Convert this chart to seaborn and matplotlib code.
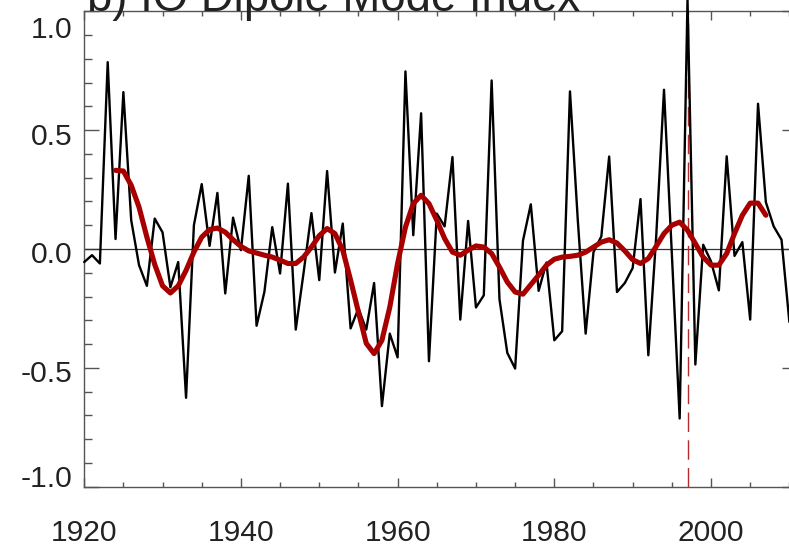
import numpy as np
import pandas as pd
import matplotlib
matplotlib.use("Agg")
import matplotlib.pyplot as plt
from matplotlib.ticker import MultipleLocator
from matplotlib.transforms import ScaledTranslation
import seaborn as sns

# ---------------- data ----------------
years = list(range(1920, 2011))
dmi = [
    -0.055, -0.026, -0.061, 0.786, 0.042, 0.660, 0.121, -0.068, -0.155, 0.128,   # 1920-1929
    0.070, -0.161, -0.055, -0.626, 0.100, 0.273, 0.013, 0.236, -0.187, 0.132,    # 1930-1939
    -0.005, 0.308, -0.323, -0.180, 0.092, -0.103, 0.275, -0.339, -0.100, 0.151,  # 1940-1949
    -0.131, 0.328, -0.099, 0.107, -0.334, -0.250, -0.339, -0.143, -0.661, -0.356,  # 1950-1959
    -0.456, 0.747, 0.058, 0.571, -0.472, 0.149, 0.095, 0.387, -0.297, 0.118,     # 1960-1969
    -0.246, -0.195, 0.709, -0.211, -0.437, -0.503, 0.035, 0.188, -0.176, -0.057,  # 1970-1979
    -0.384, -0.346, 0.663, 0.120, -0.356, -0.013, 0.053, 0.389, -0.181, -0.143,  # 1980-1989
    -0.080, 0.210, -0.447, 0.050, 0.670, -0.020, -0.713, 1.050, -0.486, 0.018,   # 1990-1999
    -0.052, -0.174, 0.390, -0.029, 0.029, -0.297, 0.611, 0.197, 0.095, 0.039,    # 2000-2009
    -0.307,                                                                      # 2010
]

smooth_years = list(range(1924, 2008))
dmi_smooth = [
    0.331, 0.328, 0.268, 0.176, 0.050, -0.065,                                   # 1924-1929
    -0.155, -0.185, -0.155, -0.090, -0.013, 0.050, 0.082, 0.088, 0.071, 0.039,   # 1930-1939
    0.011, -0.008, -0.017, -0.026, -0.034, -0.047, -0.061, -0.061, -0.034, 0.008,  # 1940-1949
    0.056, 0.086, 0.065, -0.005, -0.131, -0.265, -0.397, -0.440, -0.384, -0.245,  # 1950-1959
    -0.061, 0.092, 0.191, 0.226, 0.191, 0.121, 0.044, -0.013, -0.026, -0.005,    # 1960-1969
    0.013, 0.008, -0.019, -0.076, -0.139, -0.181, -0.190, -0.150, -0.110, -0.068,  # 1970-1979
    -0.043, -0.034, -0.031, -0.026, -0.013, 0.008, 0.029, 0.039, 0.025, -0.008,  # 1980-1989
    -0.045, -0.061, -0.040, 0.011, 0.065, 0.100, 0.113, 0.079, 0.023, -0.034,    # 1990-1999
    -0.068, -0.068, -0.019, 0.065, 0.142, 0.193, 0.193, 0.142,                   # 2000-2007
]

event_year = 1997
x_tick_values = [1920, 1940, 1960, 1980, 2000]
x_tick_labels = ["1920", "1940", "1960", "1980", "2000"]
y_tick_values = [-1.0, -0.5, 0.0, 0.5, 1.0]
y_tick_labels = ["-1.0", "-0.5", "0.0", "0.5", "1.0"]
title = "b) IO Dipole Mode Index"

# ---------------- style ----------------
sns.set_style("ticks")
plt.rcParams["font.family"] = ["Liberation Sans", "DejaVu Sans"]

W, H, DPI = 789, 547, 100
fig = plt.figure(figsize=(W / DPI, H / DPI), dpi=DPI)
fig.patch.set_facecolor("white")

# axes box in pixels: left 84.2, right 797 (beyond canvas), top 11.3, bottom 486.7
left, right, top, bottom = 84.2, 797.2, 11.3, 486.7
ax = fig.add_axes([left / W, (H - bottom) / H, (right - left) / W, (bottom - top) / H])
ax.set_facecolor("white")

df = pd.DataFrame({"year": years, "dmi": dmi})
df_s = pd.DataFrame({"year": smooth_years, "dmi": dmi_smooth})

ax.axhline(0.0, color="#333333", lw=0.9, zorder=1)
sns.lineplot(data=df, x="year", y="dmi", ax=ax, color="black", lw=1.7,
             estimator=None, errorbar=None, clip_on=False, zorder=3)
sns.lineplot(data=df_s, x="year", y="dmi", ax=ax, color="#a80000", lw=3.7,
             estimator=None, errorbar=None, zorder=4, solid_joinstyle="round")
ax.axvline(event_year, color="#b52a2a", lw=1.0, dashes=(14, 6), zorder=2)

ax.set_xlim(1920, 2011)
ax.set_ylim(-1.0, 1.0)
ax.set_xlabel("")
ax.set_ylabel("")

ax.set_xticks(x_tick_values)
ax.set_xticklabels(x_tick_labels)
ax.set_yticks(y_tick_values)
ax.set_yticklabels(y_tick_labels)
ax.xaxis.set_minor_locator(MultipleLocator(5))
ax.yaxis.set_minor_locator(MultipleLocator(0.1))

tick_col = "#555555"
ax.tick_params(which="both", direction="in", top=True, right=True,
               color=tick_col, width=1.0, labelsize=21.6, labelcolor="#222222")
ax.tick_params(axis="x", which="major", length=6.7, pad=23.5)
ax.tick_params(axis="x", which="minor", length=3.6)
ax.tick_params(axis="y", which="major", length=10.8, pad=8.6)
ax.tick_params(axis="y", which="minor", length=5.5)

for s in ax.spines.values():
    s.set_color(tick_col)
    s.set_linewidth(1.0)

# IDL-style label nudges (pixels, positive = up)
nudges = {-1.0: 11, -0.5: -3, 0.0: -3, 0.5: -4, 1.0: -16}
for tick, val in zip(ax.yaxis.get_major_ticks(), y_tick_values):
    dy = nudges[val]
    tick.label1.set_transform(tick.label1.get_transform()
                              + ScaledTranslation(0, dy / DPI, fig.dpi_scale_trans))

fig.text(87 / W, 1 - 11 / H, title, fontsize=32.8, ha="left", va="baseline",
         color="#222222")

fig.savefig("out.png", dpi=DPI)
